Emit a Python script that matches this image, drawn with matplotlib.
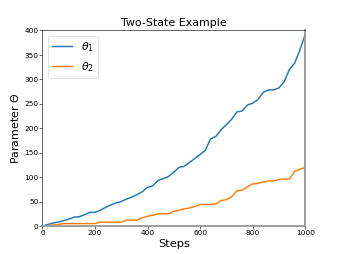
import numpy as np
from matplotlib import pyplot as plt

steps = np.arange(0, 1001, 20)
theta1 = [0, 3, 6, 8, 11, 14, 18, 19, 23, 28, 28, 32, 38, 43, 47, 50, 55, 59, 64, 70,
          79, 82, 93, 97, 101, 110, 120, 122, 130, 138, 146, 155, 178, 183, 197, 207,
          218, 233, 235, 247, 251, 258, 273, 278, 278, 282, 295, 320, 333, 360, 392]
theta2 = [0, 1, 2, 3, 5, 5, 5, 5, 5, 5, 5, 8, 8, 8, 8, 8, 12, 12, 12, 17,
          20, 22, 25, 25, 25, 30, 32, 35, 37, 40, 44, 44, 44, 45, 52, 54,
          60, 72, 73, 80, 86, 87, 90, 92, 92, 95, 96, 96, 112, 116, 120]

fig, ax = plt.subplots(figsize=(6.4, 4.8), dpi=53)
ax.plot(steps, theta1, label=r"$\theta_1$", lw=2)
ax.plot(steps, theta2, label=r"$\theta_2$", lw=2)
ax.set_xlim(0, 1000)
ax.set_ylim(0, 400)
ax.set_title("Two-State Example", fontsize=15)
ax.set_xlabel("Steps", fontsize=15.5, labelpad=4)
ax.set_ylabel(r"Parameter $\Theta$", fontsize=15)
ax.tick_params(labelsize=10, pad=2)
for side in ["right", "bottom"]:
    ax.spines[side].set_color("#999999")
    ax.spines[side].set_linewidth(2.5)
ax.legend(loc="upper left", fontsize=15, handlelength=1.8)

fig.savefig("out.png")
